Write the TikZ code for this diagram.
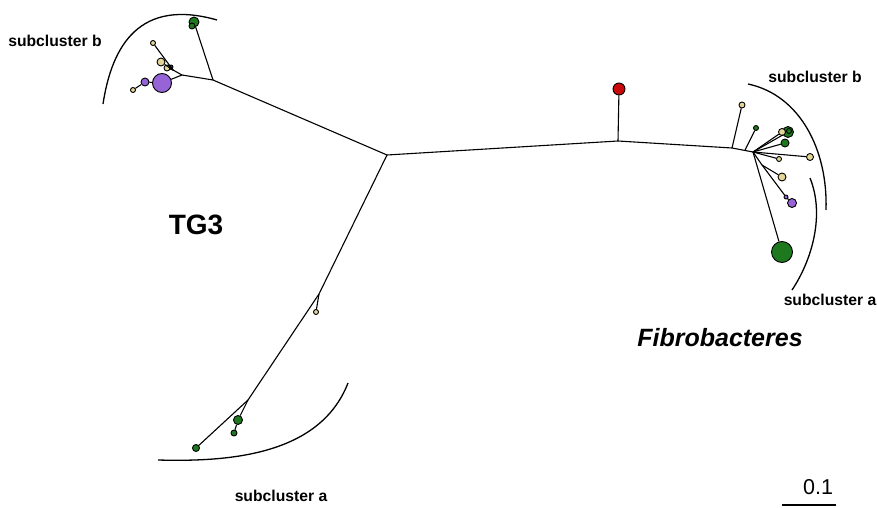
\documentclass[tikz,border=0pt]{standalone}
\usepackage{fontspec}
\setmainfont{Liberation Sans}
\begin{document}
\begin{tikzpicture}[x=1pt,y=-1pt,
  br/.style={draw=black,line width=1.1pt},
  arcl/.style={draw=black,line width=1.3pt},
  leaf/.style={circle,draw=black,line width=0.9pt,inner sep=0pt,minimum size=#1},
  gn/.style={leaf=#1,fill={rgb,255:red,30;green,120;blue,30}},
  yl/.style={leaf=#1,fill={rgb,255:red,228;green,214;blue,150}},
  pu/.style={leaf=#1,fill={rgb,255:red,150;green,100;blue,215}},
  rd/.style={leaf=#1,fill={rgb,255:red,200;green,10;blue,10}},
  lab/.style={font=\bfseries\fontsize{15.7}{18}\selectfont,inner sep=0pt}]
\useasboundingbox[fill=white] (0,0) rectangle (877,508);

% internal coordinates
\coordinate (c) at (387,155);
\coordinate (tl) at (213,80);
\coordinate (tlj) at (182,75);
\coordinate (tly) at (173,70);
\coordinate (rm) at (618,141);
\coordinate (r1) at (732,148);
\coordinate (r2) at (745,150);
\coordinate (rj) at (753,152);
\coordinate (rk) at (762,165);
\coordinate (ly) at (319,294);
\coordinate (lg) at (248,400);

% leaves top-left
\node[gn=10pt] (g1) at (194,22) {};
\node[gn=6pt] (g1b) at (192,26) {};
\node[yl=5pt] (y1) at (153,43) {};
\node[yl=8pt] (y2) at (161,62) {};
\node[yl=6pt] (y3) at (167,68) {};
\node[leaf=4pt,fill={rgb,255:red,60;green,60;blue,40}] (d1) at (171,67) {};
\node[pu=19pt] (p1) at (162,83) {};
\node[pu=8pt] (p2) at (145,82) {};
\node[yl=5pt] (y4) at (133,90) {};

% red
\node[rd=12pt] (r) at (619,89) {};

% right cluster
\node[yl=6pt] (ry1) at (742,105) {};
\node[gn=5pt] (rg1) at (756,128) {};
\node[gn=11pt] (rg2) at (788,132) {};
\node[yl=7pt] (ry2) at (782,132) {};
\node[gn=8pt] (rg3) at (785,143) {};
\node[gn=5pt] (rg4) at (789,131) {};
\node[yl=7pt] (ry3) at (810,157) {};
\node[yl=5pt] (ry4) at (779,159) {};
\node[yl=8pt] (ry5) at (782,177) {};
\node[pu=4pt] (rp1) at (786,197) {};
\node[pu=9pt] (rp2) at (792,203) {};
\node[gn=21pt] (rg5) at (782,252) {};

% lower branch leaves
\node[yl=5pt] (ly1) at (316,312) {};
\node[gn=7pt] (lg1) at (196,448) {};
\node[gn=9pt] (lg2) at (238,420) {};
\node[gn=6pt] (lg3) at (234,433) {};

% branches
\begin{scope}[on background layer/.try]
\end{scope}
\draw[br] (c) -- (tl);
\draw[br] (tl) -- (g1);
\draw[br] (tl) -- (tlj);
\draw[br] (tlj) -- (p1);
\draw[br] (tlj) -- (tly);
\draw[br] (tly) -- (y1);
\draw[br] (tly) -- (y2);
\draw[br] (tly) -- (y3);
\draw[br] (tly) -- (d1);
\draw[br] (p1) -- (p2);
\draw[br] (p2) -- (y4);

\draw[br] (c) -- (rm);
\draw[br] (rm) -- (r);
\draw[br] (rm) -- (r1);
\draw[br] (r1) -- (rj);
\draw[br] (r1) -- (ry1);
\draw[br] (r2) -- (rg1);
\draw[br] (rj) -- (ry2);
\draw[br] (rj) -- (rg2);
\draw[br] (rj) -- (rg3);
\draw[br] (rj) -- (ry3);
\draw[br] (rj) -- (ry4);
\draw[br] (rj) -- (rk);
\draw[br] (rk) -- (ry5);
\draw[br] (rk) -- (rp1);
\draw[br] (rp1) -- (rp2);
\draw[br] (rj) -- (rg5);

\draw[br] (c) -- (ly);
\draw[br] (ly) -- (ly1);
\draw[br] (ly) -- (lg);
\draw[br] (lg) -- (lg1);
\draw[br] (lg) -- (lg2);
\draw[br] (lg2) -- (lg3);

% redraw leaves on top
\foreach \n in {g1,g1b,y1,y2,y3,d1,p1,p2,y4,r,ry1,rg1,ry2,rg2,rg4,rg3,ry3,ry4,ry5,rp1,rp2,rg5,ly1,lg1,lg2,lg3}{}

% arcs
\coordinate (a1s) at (103,104);
\coordinate (a1e) at (217,20);
\draw[arcl] (a1s) .. controls (112,45) and (140,-2) .. (a1e);
\coordinate (a2s) at (748,84);
\coordinate (a2e) at (826,210);
\draw[arcl] (a2s) .. controls (800,95) and (828,150) .. (a2e);
\coordinate (a3s) at (810,178);
\coordinate (a3e) at (792,290);
\draw[arcl] (a3s) .. controls (825,215) and (812,260) .. (a3e);
\coordinate (a4s) at (158,460);
\coordinate (a4e) at (348,383);
\draw[arcl] (a4s) .. controls (230,462) and (320,455) .. (a4e);

% labels
\node[lab] (lb1) at (55,41) {subcluster b};
\node[lab] (lb2) at (815,77) {subcluster b};
\node[lab] (lb3) at (830,300) {subcluster a};
\node[lab] (lb4) at (281,496) {subcluster a};
\node[font=\bfseries\fontsize{28}{32}\selectfont,inner sep=0pt] (tg3) at (196,225) {TG3};
\node[font=\bfseries\itshape\fontsize{25}{30}\selectfont,inner sep=0pt] (fib) at (720,338) {Fibrobacteres};

% scale bar
\node[font=\fontsize{21.5}{24}\selectfont,inner sep=0pt] (sc) at (818,487) {0.1};
\coordinate (s1) at (782,505);
\coordinate (s2) at (836,505);
\draw[line width=1.3pt] (s1) -- (s2);
\end{tikzpicture}
\end{document}
